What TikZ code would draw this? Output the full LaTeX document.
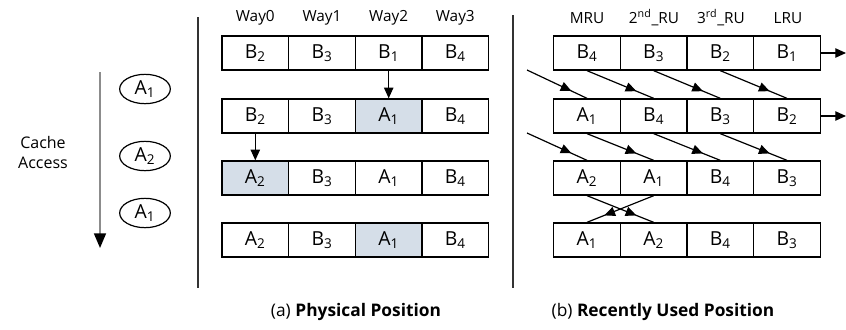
\documentclass[tikz,border=0pt]{standalone}
\usepackage{fontspec}
\setmainfont{Open Sans}
\usetikzlibrary{arrows.meta,shapes.geometric,decorations.markings}

\definecolor{hitblue}{HTML}{D5DEE8}
\tikzset{
  cell/.style={draw, line width=1pt, minimum width=50pt, minimum height=25.5pt, inner sep=0pt, font=\fontsize{14.5}{17}\selectfont},
  hit/.style={cell, fill=hitblue},
  access/.style={draw, ellipse, line width=0.9pt, minimum width=38pt, minimum height=22pt, inner sep=0pt, font=\fontsize{14.5}{17}\selectfont},
  head/.style={font=\fontsize{11.5}{13}\selectfont},
  caption/.style={font=\fontsize{13}{15}\selectfont},
  tip/.style={-{Triangle[length=8pt,width=7pt]}, line width=0.9pt},
  shiftarrow/.style={line width=0.9pt, postaction={decorate}, decoration={markings, mark=at position 0.74 with {\arrow{Triangle[length=8pt,width=7pt]}}}}
}

\begin{document}
\begin{tikzpicture}[x=0.75pt,y=0.75pt,yscale=-1,xscale=1]
\useasboundingbox (0,0) rectangle (846,329);

% separators
\draw[line width=0.9pt, black!80] (198,17) -- (198,288);
\draw[line width=0.9pt, black!80] (513,15) -- (513,288);

% cache access sequence
\coordinate (acc0) at (100,72);
\coordinate (acc1) at (100,248);
\draw[black!45, line width=1.3pt, -{Triangle[length=11pt,width=9pt,black]}] (acc0) -- (acc1);
\node[align=center, font=\fontsize{12}{15}\selectfont] (cache) at (43,152) {Cache\\Access};
\node[access] (acA) at (145,89) {A\textsubscript{1}};
\node[access] (acB) at (145,156) {A\textsubscript{2}};
\node[access] (acC) at (145,213) {A\textsubscript{1}};

% (a) physical position
\node[head] (way0) at (255.3,18) {Way0};
\node[head] (way1) at (322,18) {Way1};
\node[head] (way2) at (388.7,18) {Way2};
\node[head] (way3) at (455.3,18) {Way3};

\node[cell] (p1c1) at (255.3,53) {B\textsubscript{2}};
\node[cell] (p1c2) at (322,53) {B\textsubscript{3}};
\node[cell] (p1c3) at (388.7,53) {B\textsubscript{1}};
\node[cell] (p1c4) at (455.3,53) {B\textsubscript{4}};

\node[cell] (p2c1) at (255.3,116) {B\textsubscript{2}};
\node[cell] (p2c2) at (322,116) {B\textsubscript{3}};
\node[hit]  (p2c3) at (388.7,116) {A\textsubscript{1}};
\node[cell] (p2c4) at (455.3,116) {B\textsubscript{4}};

\node[hit]  (p3c1) at (255.3,178) {A\textsubscript{2}};
\node[cell] (p3c2) at (322,178) {B\textsubscript{3}};
\node[cell] (p3c3) at (388.7,178) {A\textsubscript{1}};
\node[cell] (p3c4) at (455.3,178) {B\textsubscript{4}};

\node[cell] (p4c1) at (255.3,240) {A\textsubscript{2}};
\node[cell] (p4c2) at (322,240) {B\textsubscript{3}};
\node[hit]  (p4c3) at (388.7,240) {A\textsubscript{1}};
\node[cell] (p4c4) at (455.3,240) {B\textsubscript{4}};

\draw[tip] (p1c3.south) -- (p2c3.north);
\draw[tip] (p2c1.south) -- (p3c1.north);

\node[caption] (capa) at (356,312) {(a) \textbf{Physical Position}};

% (b) recently used position
\node[head] (mru) at (587,18) {MRU};
\node[head] (ru2) at (654,18) {2\textsuperscript{nd}\_RU};
\node[head] (ru3) at (721,18) {3\textsuperscript{rd}\_RU};
\node[head] (lru) at (788,18) {LRU};

\node[cell] (r1c1) at (587,53) {B\textsubscript{4}};
\node[cell] (r1c2) at (653.7,53) {B\textsubscript{3}};
\node[cell] (r1c3) at (720.3,53) {B\textsubscript{2}};
\node[cell] (r1c4) at (787,53) {B\textsubscript{1}};

\node[cell] (r2c1) at (587,116) {A\textsubscript{1}};
\node[cell] (r2c2) at (653.7,116) {B\textsubscript{4}};
\node[cell] (r2c3) at (720.3,116) {B\textsubscript{3}};
\node[cell] (r2c4) at (787,116) {B\textsubscript{2}};

\node[cell] (r3c1) at (587,178) {A\textsubscript{2}};
\node[cell] (r3c2) at (653.7,178) {A\textsubscript{1}};
\node[cell] (r3c3) at (720.3,178) {B\textsubscript{4}};
\node[cell] (r3c4) at (787,178) {B\textsubscript{3}};

\node[cell] (r4c1) at (587,240) {A\textsubscript{1}};
\node[cell] (r4c2) at (653.7,240) {A\textsubscript{2}};
\node[cell] (r4c3) at (720.3,240) {B\textsubscript{4}};
\node[cell] (r4c4) at (787,240) {B\textsubscript{3}};

% evicted and inserted blocks
\coordinate (out1) at (846,53);
\coordinate (out2) at (846,116);
\coordinate (in1) at (527,70);
\coordinate (in2) at (527,133);
\draw[tip] (r1c4.east) -- (out1);
\draw[tip] (r2c4.east) -- (out2);

% shifts down the stack
\draw[shiftarrow] (in1) -- (r2c1.north);
\draw[shiftarrow] (r1c1.south) -- (r2c2.north);
\draw[shiftarrow] (r1c2.south) -- (r2c3.north);
\draw[shiftarrow] (r1c3.south) -- (r2c4.north);
\draw[shiftarrow] (in2) -- (r3c1.north);
\draw[shiftarrow] (r2c1.south) -- (r3c2.north);
\draw[shiftarrow] (r2c2.south) -- (r3c3.north);
\draw[shiftarrow] (r2c3.south) -- (r3c4.north);
\draw[shiftarrow] (r3c1.south) -- (r4c2.north);
\draw[shiftarrow] (r3c2.south) -- (r4c1.north);

\node[caption] (capb) at (663,312) {(b) \textbf{Recently Used Position}};

\end{tikzpicture}
\end{document}
